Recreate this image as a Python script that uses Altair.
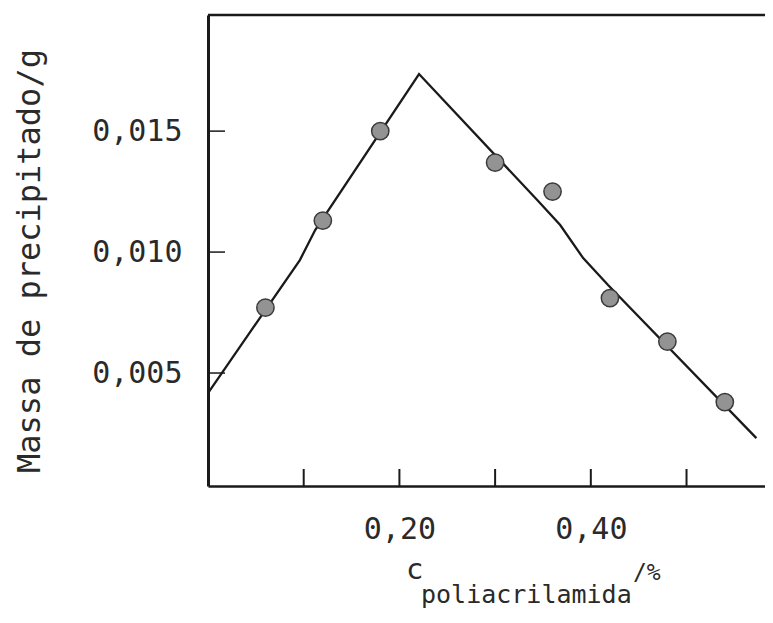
import altair as alt
import pandas as pd

# ---- data ----
pt_x = [0.06, 0.12, 0.18, 0.30, 0.36, 0.42, 0.48, 0.54]
pt_y = [0.0077, 0.0113, 0.0150, 0.0137, 0.0125, 0.0081, 0.0063, 0.0038]
line_x = [0.0, 0.096, 0.112, 0.2205, 0.344, 0.368, 0.392, 0.418, 0.573]
line_y = [0.00417, 0.00967, 0.01091, 0.01736, 0.01215, 0.01112, 0.00975, 0.00864, 0.00231]
x_ticks = [0.1, 0.2, 0.3, 0.4, 0.5]
x_labels = [0.2, 0.4]
y_ticks = [0.005, 0.010, 0.015]
y_title = "Massa de precipitado/g"
x_title_main = "c"
x_title_sub = "poliacrilamida"
x_title_sup = "/%"

W, H = 557, 471
FONT = "DejaVu Sans Mono"
INK = "#1a1a1a"
TXT = "#2a2a2a"

xs = alt.Scale(domain=[0, 0.582], nice=False, zero=False)
ys = alt.Scale(domain=[0.00033, 0.0198], nice=False, zero=False)

pts = pd.DataFrame({"x": pt_x, "y": pt_y})
ln = pd.DataFrame({"x": line_x, "y": line_y, "o": list(range(len(line_x)))})
xt = pd.DataFrame({"x": x_ticks})
yt = pd.DataFrame({"y": y_ticks})
one = pd.DataFrame({"a": [0]})

line = alt.Chart(ln).mark_line(color=INK, strokeWidth=2.3).encode(
    x=alt.X("x:Q", scale=xs, axis=alt.Axis(
        values=x_labels, labelExpr="replace(format(datum.value, '.2f'), '.', ',')",
        ticks=False, grid=False, domainColor=INK, domainWidth=2.5,
        labelFont=FONT, labelFontSize=30, labelColor=TXT, labelPadding=28,
        title=None)),
    y=alt.Y("y:Q", scale=ys, axis=alt.Axis(
        values=y_ticks, labelExpr="replace(format(datum.value, '.3f'), '.', ',')",
        ticks=False, grid=False, domainColor=INK, domainWidth=3,
        labelFont=FONT, labelFontSize=30, labelColor=TXT, labelPadding=26,
        title=None)),
    order="o:O",
)

points = alt.Chart(pts).mark_circle(size=300, color="#939393", opacity=1,
                                    stroke="#3a3a3a", strokeWidth=1.5).encode(
    x=alt.X("x:Q", scale=xs), y=alt.Y("y:Q", scale=ys))

xtick = alt.Chart(xt).mark_rule(color=INK, strokeWidth=2).encode(
    x=alt.X("x:Q", scale=xs), y=alt.value(H), y2=alt.value(H - 17))
ytick = alt.Chart(yt).mark_rule(color=INK, strokeWidth=1.5).encode(
    y=alt.Y("y:Q", scale=ys), x=alt.value(0), x2=alt.value(17))

top = alt.Chart(one).mark_rule(color=INK, strokeWidth=2.5).encode(
    x=alt.value(0), x2=alt.value(W), y=alt.value(0))

ytitle = alt.Chart(one).mark_text(text=y_title, font=FONT, fontSize=32, angle=270,
                                  align="center", baseline="middle", color=TXT).encode(
    x=alt.value(-178), y=alt.value(246))
t_c = alt.Chart(one).mark_text(text=x_title_main, font=FONT, fontSize=29,
                               align="left", baseline="middle", color=TXT).encode(
    x=alt.value(198), y=alt.value(555))
t_sub = alt.Chart(one).mark_text(text=x_title_sub, font=FONT, fontSize=25,
                                 align="left", baseline="alphabetic", color=TXT).encode(
    x=alt.value(213), y=alt.value(588))
t_sup = alt.Chart(one).mark_text(text=x_title_sup, font=FONT, fontSize=23,
                                 align="left", baseline="middle", color=TXT).encode(
    x=alt.value(425), y=alt.value(558))

chart = alt.layer(line, points, xtick, ytick, top, ytitle, t_c, t_sub, t_sup).properties(
    width=W, height=H,
    padding={"left": 200, "top": 7, "right": 0, "bottom": 130},
    autosize=alt.AutoSizeParams(type="none"),
).configure_view(stroke=None).configure(background="white")

chart.save("out.html", embed_options={"renderer": "svg", "actions": False})
